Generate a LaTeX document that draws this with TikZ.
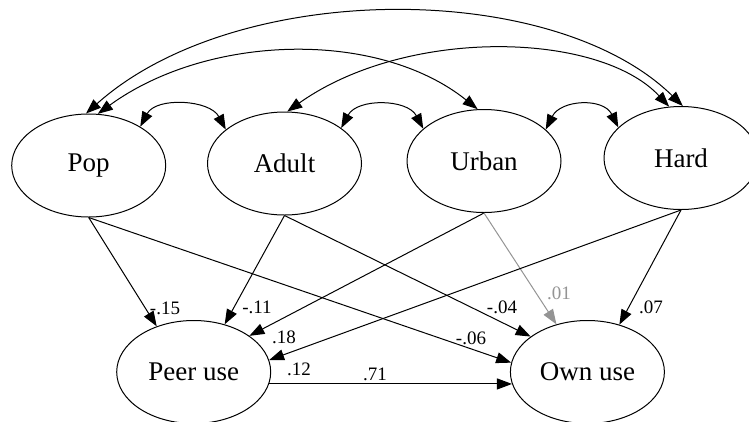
\documentclass[tikz,border=0pt]{standalone}
\usepackage{fontspec}
\setmainfont{Liberation Serif}
\usetikzlibrary{shapes.geometric,arrows.meta}

\newlength{\du}
\setlength{\du}{1pt}
\definecolor{dialinecolor}{rgb}{0.000000, 0.000000, 0.000000}
\definecolor{fadedcolor}{rgb}{0.580000, 0.580000, 0.580000}

\tikzset{
  latent/.style={ellipse, draw=dialinecolor, line width=1pt, inner sep=0pt,
    minimum width=154pt, minimum height=103pt, font=\fontsize{27}{30}\selectfont},
  tip/.tip={Triangle[length=15pt,width=11pt]},
  effect/.style={draw=dialinecolor, line width=1pt, -tip},
  covar/.style={effect, tip-tip},
  coef/.style={inner sep=0pt, font=\fontsize{19}{21}\selectfont},
}

\begin{document}
\begin{tikzpicture}
\pgftransformxscale{1.000000}
\pgftransformyscale{-1.000000}
\useasboundingbox (0\du,0\du) rectangle (749\du,421\du);
% setfont left to latex
\node[latent] (pop) at (88.700000\du,165.500000\du){Pop};
\node[latent] (adult) at (284.500000\du,163.500000\du){Adult};
\node[latent] (urban) at (484.000000\du,161.000000\du){Urban};
\node[latent] (hard) at (681.000000\du,158.000000\du){Hard};
\node[latent] (peer) at (193.700000\du,372.000000\du){Peer use};
\node[latent] (own) at (587.400000\du,372.000000\du){Own use};
% covariances
\draw[covar] (pop.37) .. controls +(16\du,-30\du) and +(-16\du,-30\du) .. (adult.150);
\draw[covar] (adult.32) .. controls +(16\du,-30\du) and +(-16\du,-30\du) .. (urban.152);
\draw[covar] (urban.27) .. controls +(15\du,-30\du) and +(-15\du,-30\du) .. (hard.154);
\draw[covar] (pop.80) .. controls +(110\du,-80\du) and +(-100\du,-80\du) .. (urban.97);
\draw[covar] (adult.87) .. controls +(120\du,-85\du) and +(-70\du,-75\du) .. (hard.103);
\draw[covar] (pop.93) .. controls +(150\du,-134\du) and +(-130\du,-127\du) .. (hard.88);
% paths
\draw[effect] (pop.south) -- (peer.129);
\draw[effect] (pop.south) -- (own.173);
\draw[effect] (adult.south) -- (peer.57);
\draw[effect] (adult.south) -- (own.148);
\draw[effect] (urban.south) -- (peer.33);
\draw[effect, draw=fadedcolor] (urban.south) -- (own.123);
\draw[effect] (hard.south) -- (peer.9);
\draw[effect] (hard.south) -- (own.56);
\draw[effect] (peer.-9) -- (own.189);
% setfont left to latex
\node[coef] (c15) at (165.000000\du,308.000000\du){-.15};
\node[coef] (c11) at (257.000000\du,307.000000\du){-.11};
\node[coef] (c18) at (284.000000\du,337.000000\du){.18};
\node[coef] (c12) at (299.000000\du,369.000000\du){.12};
\node[coef] (c71) at (375.000000\du,374.000000\du){.71};
\node[coef] (c06) at (471.000000\du,338.000000\du){-.06};
\node[coef] (c04) at (502.000000\du,307.000000\du){-.04};
\node[coef, text=fadedcolor] (c01) at (559.000000\du,293.000000\du){.01};
\node[coef] (c07) at (651.000000\du,307.000000\du){.07};
\end{tikzpicture}
\end{document}
